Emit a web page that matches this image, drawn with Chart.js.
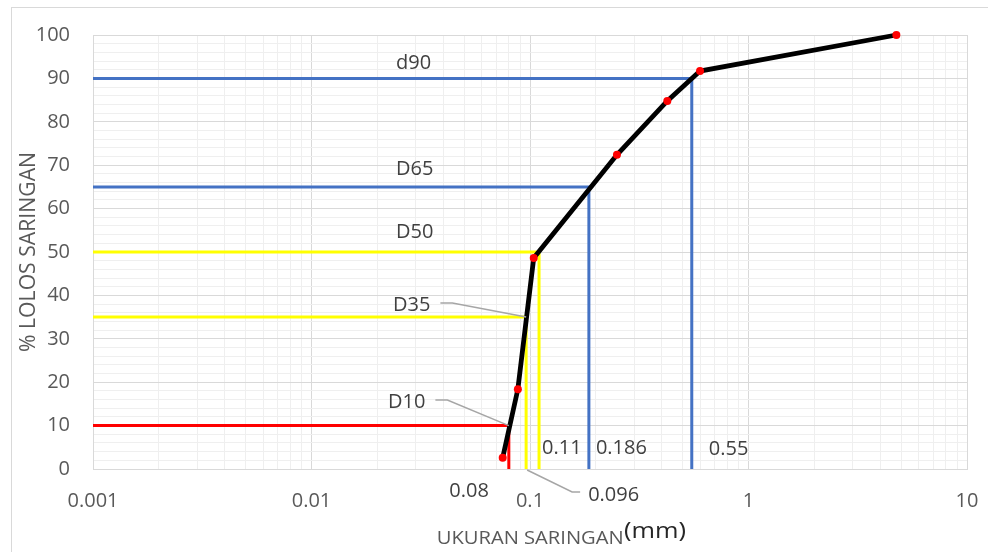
<!DOCTYPE html>
<html><head><meta charset="utf-8">
<script src="https://cdn.jsdelivr.net/npm/chart.js@4.4.1/dist/chart.umd.min.js"></script>
<style>html,body{margin:0;padding:0;background:#fff;}canvas{display:block;}</style>
</head><body>
<canvas id="c" width="988" height="552"></canvas>
<script>
// ---- data ----
const sieveSize = [0.075, 0.088, 0.104, 0.25, 0.425, 0.6, 4.75];
const percentPassing = [2.6, 18.4, 48.6, 72.4, 84.8, 91.7, 100];
const dNames = ['D10', 'D35', 'D50', 'D65', 'd90'];
const dPercent = [10, 35, 50, 65, 90];
const dSize = [0.08, 0.096, 0.11, 0.186, 0.55];
const dSizeLabels = ['0.08', '0.096', '0.11', '0.186', '0.55'];
const xTickValues = [0.001, 0.01, 0.1, 1, 10];
const xTickLabels = ['0.001', '0.01', '0.1', '1', '10'];
const yTickValues = [0, 10, 20, 30, 40, 50, 60, 70, 80, 90, 100];
const xTitle = 'UKURAN SARINGAN';
const xUnit = '(mm)';
const yTitle = '% LOLOS SARINGAN';

// ---- styles / layout (not data) ----
const dColors = ['#FF0000', '#FFFF00', '#FFFF00', '#4472C4', '#4472C4'];
const nameLayout = [
  {dx: 295, dy: -17.6, leader: true},
  {dx: 300, dy: -6, leader: true},
  {dx: 303, dy: -13.7},
  {dx: 303, dy: -12},
  {dx: 303, dy: -9.3}
];
const valueLayout = [
  {dx: -20, by: 28, align: 'right'},
  {dx: 62, by: 31.5, align: 'left', leader: true},
  {dx: 3, by: -15, align: 'left'},
  {dx: 7, by: -15, align: 'left'},
  {dx: 17, by: -14, align: 'left'}
];
const FONT = "'Open Sans'";
const TXT = '#404040';
const GRID_MAJOR = '#d9d9d9';
const GRID_MINOR = '#efefef';

// ---- datasets ----
const datasets = [{
  data: sieveSize.map((x, i) => ({x, y: percentPassing[i]})),
  showLine: true,
  borderColor: '#000000',
  borderWidth: 4.8,
  pointRadius: 4,
  pointBackgroundColor: '#FF0000',
  pointBorderColor: '#FF0000',
  pointBorderWidth: 0,
  tension: 0,
  clip: false
}];
dSize.forEach((s, i) => {
  datasets.push({
    data: [{x: xTickValues[0], y: dPercent[i]}, {x: s, y: dPercent[i]}, {x: s, y: 0}],
    showLine: true,
    borderColor: dColors[i],
    borderWidth: 3,
    pointRadius: 0,
    tension: 0,
    borderJoinStyle: 'miter',
    clip: false
  });
});

function isMajorX(v) { return xTickValues.some(t => Math.abs(t - v) / t < 1e-6); }

const annot = {
  id: 'annot',
  beforeDraw(chart) {
    const ctx = chart.ctx;
    ctx.save();
    ctx.strokeStyle = '#d9d9d9';
    ctx.lineWidth = 1;
    ctx.strokeRect(11.5, 7.5, 1000, 600);
    ctx.restore();
  },
  afterDraw(chart) {
    const ctx = chart.ctx;
    const xs = chart.scales.x, ys = chart.scales.y, ca = chart.chartArea;
    ctx.save();
    ctx.font = '20px ' + FONT;
    ctx.fillStyle = TXT;
    ctx.textBaseline = 'alphabetic';
    // names
    dNames.forEach((n, i) => {
      const L = nameLayout[i];
      const y = ys.getPixelForValue(dPercent[i]) + L.dy;
      const x = ca.left + L.dx;
      ctx.textAlign = 'left';
      ctx.fillText(n, x, y);
      if (L.leader) {
        const w = ctx.measureText(n).width;
        const ly = y - 8;
        ctx.save();
        ctx.strokeStyle = '#A6A6A6';
        ctx.lineWidth = 1.5;
        ctx.beginPath();
        ctx.moveTo(x + w + 10, ly);
        ctx.lineTo(x + w + 22, ly);
        ctx.lineTo(xs.getPixelForValue(dSize[i]), ys.getPixelForValue(dPercent[i]));
        ctx.stroke();
        ctx.restore();
      }
    });
    // values
    dSizeLabels.forEach((t, i) => {
      const L = valueLayout[i];
      const xp = xs.getPixelForValue(dSize[i]);
      const x = xp + L.dx;
      const y = ca.bottom + L.by;
      ctx.textAlign = L.align;
      ctx.fillText(t, x, y);
      if (L.leader) {
        const ly = y - 8.5;
        ctx.save();
        ctx.strokeStyle = '#A6A6A6';
        ctx.lineWidth = 1.5;
        ctx.beginPath();
        ctx.moveTo(xp + 1, ca.bottom + 1);
        ctx.lineTo(x - 16, ly);
        ctx.lineTo(x - 8, ly);
        ctx.stroke();
        ctx.restore();
      }
    });
    // x title
    ctx.fillStyle = '#595959';
    ctx.textAlign = 'left';
    ctx.font = '19px ' + FONT;
    let w = ctx.measureText(xTitle).width;
    ctx.save();
    ctx.translate(436.7, 544.3);
    ctx.scale(187 / w, 1);
    ctx.fillText(xTitle, 0, 0);
    ctx.restore();
    ctx.fillStyle = '#262626';
    ctx.font = '21px ' + FONT;
    w = ctx.measureText(xUnit).width;
    ctx.save();
    ctx.translate(624, 538.3);
    ctx.scale(62 / w, 1);
    ctx.fillText(xUnit, 0, 0);
    ctx.restore();
    // y title
    ctx.fillStyle = '#595959';
    ctx.font = '21px ' + FONT;
    ctx.textAlign = 'center';
    ctx.textBaseline = 'middle';
    w = ctx.measureText(yTitle).width;
    ctx.save();
    ctx.translate(29, (ca.top + ca.bottom) / 2 + 0);
    ctx.rotate(-Math.PI / 2);
    ctx.scale(200 / w, 1);
    ctx.fillText(yTitle, 0, 0);
    ctx.restore();
    ctx.restore();
  }
};

new Chart(document.getElementById('c'), {
  type: 'scatter',
  data: {datasets},
  plugins: [annot],
  options: {
    responsive: false,
    animation: false,
    events: [],
    layout: {padding: {left: 0, right: 21, top: 35, bottom: 0}},
    plugins: {legend: {display: false}, tooltip: {enabled: false}},
    scales: {
      x: {
        type: 'logarithmic',
        min: xTickValues[0],
        max: xTickValues[xTickValues.length - 1],
        afterFit(s) { s.height = 83; s.paddingRight = 0; s.paddingLeft = 0; },
        afterBuildTicks(s) {
          const t = [];
          for (let e = 0; e < xTickValues.length; e++) {
            const base = xTickValues[e];
            const lim = e === xTickValues.length - 1 ? 1 : 9;
            for (let m = 1; m <= lim; m++) t.push({value: Number((base * m).toPrecision(4))});
          }
          s.ticks = t;
        },
        ticks: {
          autoSkip: false,
          maxRotation: 0,
          padding: 20,
          color: '#595959',
          font: {family: FONT, size: 20},
          callback(v) {
            const i = xTickValues.findIndex(t => Math.abs(t - v) / t < 1e-6);
            return i >= 0 ? xTickLabels[i] : '';
          }
        },
        grid: {
          drawTicks: false,
          color(c) { return c.tick && isMajorX(c.tick.value) ? GRID_MAJOR : GRID_MINOR; },
          lineWidth: 1
        },
        border: {color: GRID_MAJOR, width: 1}
      },
      y: {
        type: 'linear',
        min: 0,
        max: 100,
        afterFit(s) { s.width = 93; s.paddingTop = 0; s.paddingBottom = 0; },
        afterBuildTicks(s) {
          const t = [];
          for (let v = 0; v <= 100; v += 2) t.push({value: v});
          s.ticks = t;
        },
        ticks: {
          autoSkip: false,
          padding: 23,
          color: '#595959',
          font: {family: FONT, size: 20},
          callback(v) { return yTickValues.includes(v) ? String(v) : ''; }
        },
        grid: {
          drawTicks: false,
          color(c) { return c.tick && c.tick.value % 10 === 0 ? GRID_MAJOR : GRID_MINOR; },
          lineWidth: 1
        },
        border: {color: GRID_MAJOR, width: 1}
      }
    }
  }
});
</script>
</body></html>
